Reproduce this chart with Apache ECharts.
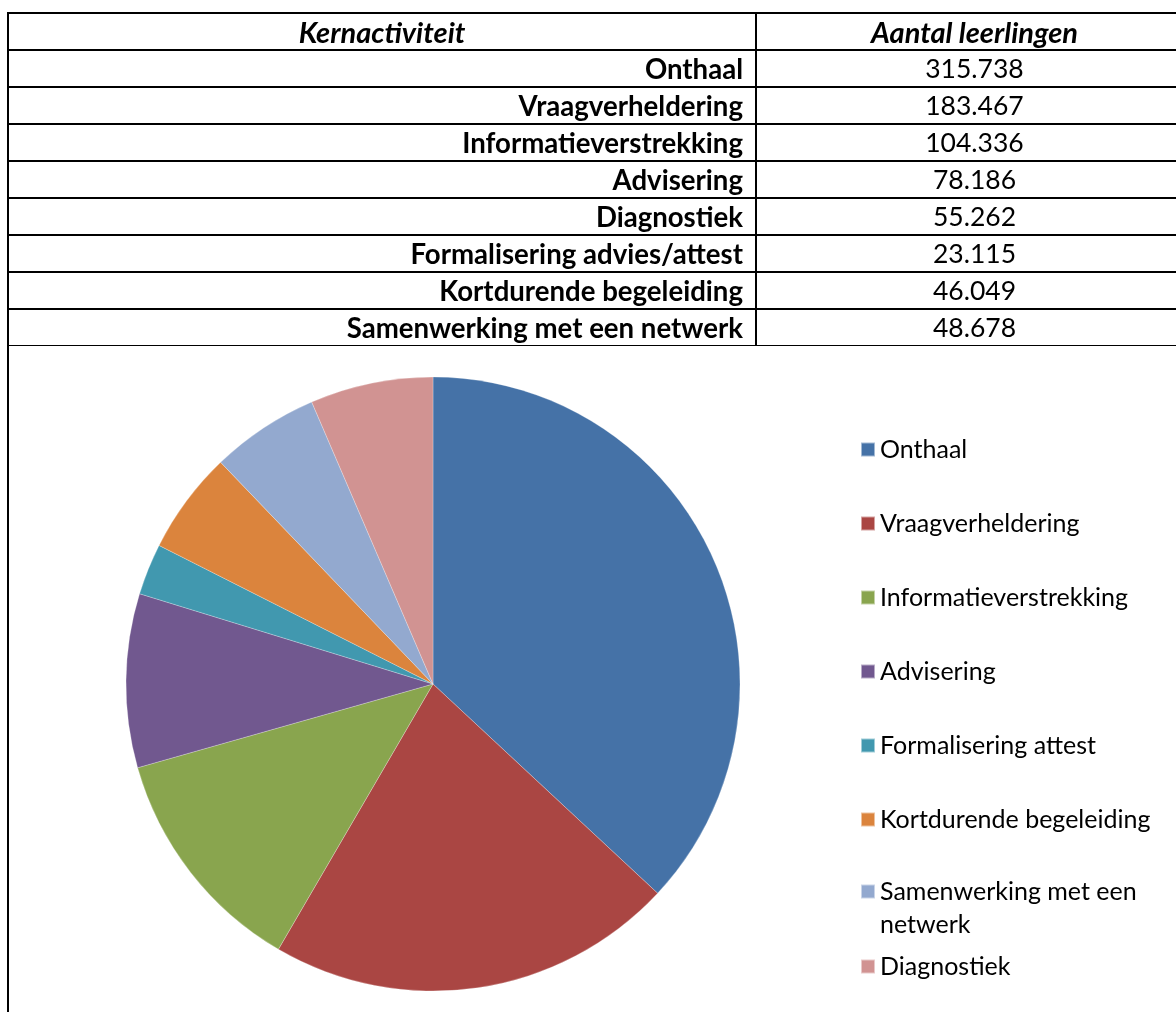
<!DOCTYPE html>
<html>
<head>
<meta charset="utf-8">
<script src="https://cdn.jsdelivr.net/npm/echarts@6/dist/echarts.min.js"></script>
<style>
  html, body { margin: 0; padding: 0; background: #fff; overflow: hidden; width: 1176px; height: 1012px; }
  #chart { position: absolute; left: 0; top: 0; width: 1176px; height: 1012px; }
  #frame { position: absolute; left: 7px; top: 346px; width: 0; height: 666px; border-left: 2px solid #000; }
  #tbl {
    position: absolute; left: 7px; top: 12px; width: 1185px;
    border-collapse: collapse; table-layout: fixed;
    font-family: Lato, "Open Sans", sans-serif; font-size: 27.6px; color: #000;
  }
  #tbl td { border: 2px solid #000; height: 35px; padding: 0 12px; line-height: 35px; white-space: nowrap; overflow: visible; }
  #tbl td.k { text-align: right; font-weight: bold; }
  #tbl td.v { text-align: center; font-size: 26.5px; }
  #tbl tr.head td { text-align: center; font-weight: bold; font-style: italic; font-size: 29px; }
  #tbl tr:last-child td { border-bottom: 1px solid #000; }
</style>
</head>
<body>
<div id="chart"></div>
<div id="frame"></div>
<table id="tbl"></table>
<script>
// tabel
var headers = ['Kernactiviteit', 'Aantal leerlingen']
var tableNames = ['Onthaal', 'Vraagverheldering', 'Informatieverstrekking', 'Advisering', 'Diagnostiek', 'Formalisering advies/attest', 'Kortdurende begeleiding', 'Samenwerking met een netwerk']
var tableValues = ['315.738', '183.467', '104.336', '78.186', '55.262', '23.115', '46.049', '48.678']

// taartdiagram
var pieNames = ['Onthaal', 'Vraagverheldering', 'Informatieverstrekking', 'Advisering', 'Formalisering attest', 'Kortdurende begeleiding', 'Samenwerking met een netwerk', 'Diagnostiek']
var pieValues = [315738, 183467, 104336, 78186, 23115, 46049, 48678, 55262]
var colors = ['#4572A7', '#AA4643', '#89A54E', '#71588F', '#4198AF', '#DB843D', '#93A9CF', '#D19392']

var tbl = document.getElementById('tbl')
var html = '<colgroup><col style="width:748px"><col style="width:437px"></colgroup>'
html += '<tr class="head"><td>' + headers[0] + '</td><td>' + headers[1] + '</td></tr>'
for (var i = 0; i < tableNames.length; i++) {
  html += '<tr><td class="k">' + tableNames[i] + '</td><td class="v">' + tableValues[i] + '</td></tr>'
}
tbl.innerHTML = html

var chart = echarts.init(document.getElementById('chart'))
var font = 'Lato, "Open Sans", sans-serif'
var legendText = { fontFamily: font, fontSize: 25, color: '#000', lineHeight: 33 }

chart.setOption({
  animation: false,
  color: colors,
  legend: [
    {
      orient: 'vertical', left: 860, top: 433, padding: 0, itemWidth: 14, itemHeight: 14, itemGap: 41,
      icon: 'rect', textStyle: legendText,
      data: pieNames.slice(0, 6)
    },
    {
      orient: 'vertical', left: 860, top: 842, padding: 0, itemWidth: 14, itemHeight: 14,
      icon: 'rect', textStyle: legendText,
      // lege regel bovenaan zodat het blokje bij de eerste regel staat
      formatter: function () { return ' \nSamenwerking met een\nnetwerk' },
      data: [pieNames[6]]
    },
    {
      orient: 'vertical', left: 860, top: 950, padding: 0, itemWidth: 14, itemHeight: 14,
      icon: 'rect', textStyle: legendText,
      data: [pieNames[7]]
    }
  ],
  series: [
    {
      type: 'pie',
      center: [433, 684],
      radius: 307,
      startAngle: 90,
      clockwise: true,
      label: { show: false },
      labelLine: { show: false },
      itemStyle: { borderColor: 'rgba(255,255,255,0.5)', borderWidth: 0.5 },
      data: pieNames.map(function (n, i) { return { name: n, value: pieValues[i] } })
    }
  ]
})
</script>
</body>
</html>
